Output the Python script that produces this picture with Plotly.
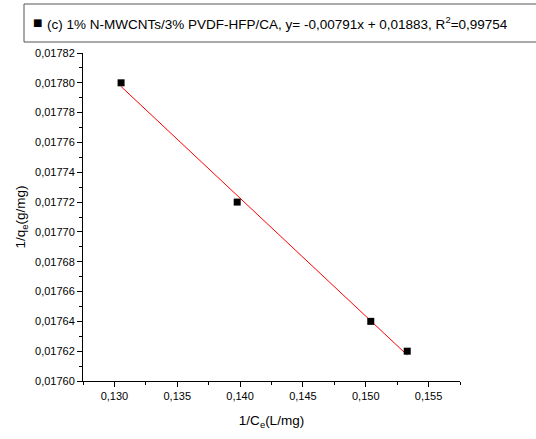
import plotly.graph_objects as go

x_vals = [0.13053, 0.13977, 0.15040, 0.15330]
y_vals = [0.01780, 0.01772, 0.01764, 0.01762]
slope = -0.00791
intercept = 0.01883
series_name = "(c) 1% N-MWCNTs/3% PVDF-HFP/CA, y= -0,00791x + 0,01883, R<sup>2</sup>=0,99754"

fit_x = [min(x_vals), max(x_vals)]
fit_y = [slope * v + intercept for v in fit_x]

fig = go.Figure()
fig.add_trace(go.Scatter(x=fit_x, y=fit_y, mode="lines",
                         line=dict(color="#ff0000", width=1), showlegend=False))
fig.add_trace(go.Scatter(x=x_vals, y=y_vals, mode="markers", name=series_name,
                         showlegend=False,
                         marker=dict(symbol="square", size=7, color="black")))

font = "Liberation Sans, Arial, sans-serif"
W, H = 536, 439
L, R, T, B = 83, 76, 53, 58
pw, ph = W - L - R, H - T - B

def px(xp):
    return (xp - L) / pw

def py(yp):
    return (H - B - yp) / ph

fig.update_layout(
    width=W, height=H,
    margin=dict(l=L, r=R, t=T, b=B, autoexpand=False),
    plot_bgcolor="white", paper_bgcolor="white",
    separators=",.",
    font=dict(family=font, size=11, color="black"),
    showlegend=False,
    shapes=[dict(type="rect", xref="paper", yref="paper",
                 x0=px(24), x1=px(545), y0=py(42), y1=py(4),
                 line=dict(color="#555555", width=1))],
    annotations=[
        dict(xref="paper", yref="paper", x=px(37), y=py(23), xanchor="center", yanchor="middle",
             text="■", showarrow=False, font=dict(size=10, family="DejaVu Sans", color="black")),
        dict(xref="paper", yref="paper", x=px(45), y=py(23), xanchor="left", yanchor="middle",
             text=series_name, showarrow=False, font=dict(size=13.5, family=font, color="black")),
    ],
)
fig.update_xaxes(range=[0.1275, 0.1575], dtick=0.005, tick0=0.13, tickformat=".3f",
                 showline=True, linecolor="black", linewidth=1, mirror=False,
                 ticks="outside", ticklen=5, tickcolor="black", showgrid=False, zeroline=False,
                 tickfont=dict(size=11),
                 minor=dict(ticks="outside", ticklen=3, dtick=0.0025, tick0=0.1275, tickcolor="black"),
                 title=dict(text="1/C<sub>e</sub>(L/mg)", font=dict(size=13.5), standoff=14))
fig.update_yaxes(range=[0.01760, 0.01782], dtick=0.00002, tick0=0.0176, tickformat=".5f",
                 showline=True, linecolor="black", linewidth=1, mirror=False,
                 ticks="outside", ticklen=5, tickcolor="black", showgrid=False, zeroline=False,
                 tickfont=dict(size=11),
                 minor=dict(ticks="outside", ticklen=3, dtick=0.00001, tick0=0.0176, tickcolor="black"),
                 title=dict(text="1/q<sub>e</sub>(g/mg)", font=dict(size=13.5), standoff=6))

fig.write_html("out.html")
